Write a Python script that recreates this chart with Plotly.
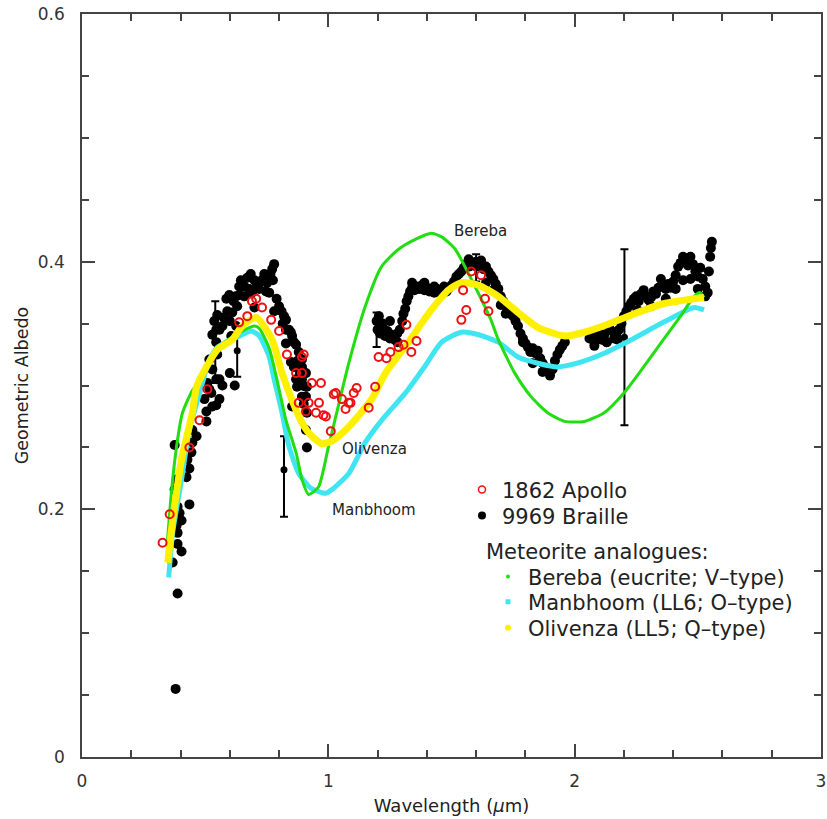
import plotly.graph_objects as go

# ---------------- data ----------------
apollo_x = [0.327, 0.356, 0.436, 0.477, 0.509, 0.638, 0.671, 0.690, 0.707, 0.731, 0.768, 0.800,
            0.832, 0.869, 0.880, 0.893, 0.893, 0.900, 0.909, 0.920, 0.933, 0.950, 0.962, 0.970,
            0.980, 0.990, 1.010, 1.022, 1.030, 1.055, 1.070, 1.083, 1.090, 1.103, 1.115, 1.164,
            1.190, 1.204, 1.236, 1.252, 1.285, 1.305, 1.317, 1.337, 1.358, 1.540, 1.547, 1.560,
            1.580, 1.620, 1.636, 1.650]
apollo_y = [0.173, 0.196, 0.250, 0.272, 0.297, 0.351, 0.356, 0.368, 0.370, 0.363, 0.353, 0.344,
            0.325, 0.310, 0.286, 0.323, 0.310, 0.325, 0.279, 0.286, 0.302, 0.278, 0.286, 0.302,
            0.276, 0.275, 0.263, 0.293, 0.294, 0.289, 0.281, 0.286, 0.286, 0.294, 0.298, 0.282,
            0.299, 0.323, 0.322, 0.327, 0.331, 0.333, 0.349, 0.327, 0.336, 0.353, 0.377, 0.361,
            0.392, 0.389, 0.370, 0.360]

braille_x = [
    # rising edge and first maximum
    0.380, 0.388, 0.368, 0.404, 0.388, 0.388, 0.384, 0.404, 0.396, 0.388, 0.436, 0.376,
    0.384, 0.424, 0.436, 0.428, 0.444, 0.376, 0.448, 0.465, 0.448, 0.505, 0.505, 0.497,
    0.545, 0.525, 0.509, 0.545, 0.529, 0.558, 0.517, 0.558, 0.529, 0.517, 0.549, 0.545,
    0.529, 0.558, 0.537, 0.549, 0.570, 0.586, 0.610, 0.630, 0.638, 0.659, 0.671, 0.650,
    0.679, 0.690, 0.719, 0.747, 0.772, 0.780, 0.752, 0.720, 0.760, 0.800, 0.780, 0.820,
    0.828, 0.853, 0.828, 0.869, 0.880, 0.848, 0.860, 0.893, 0.909, 0.869, 0.873, 0.909,
    0.909, 0.853, 0.626, 0.606, 0.700, 0.679, 0.638, 0.598, 0.545, 0.828, 0.848, 0.893,
    0.893, 0.913, 0.913, 0.909, 0.913, 0.893, 0.570, 0.600, 0.620,
    0.575, 0.590, 0.600, 0.615, 0.625, 0.645, 0.660, 0.685, 0.700, 0.710, 0.730, 0.740,
    0.765, 0.775, 0.790, 0.810, 0.815, 0.840, 0.860, 0.875, 0.885, 0.895, 0.900,
    # second band
    1.196, 1.200, 1.205, 1.210, 1.220, 1.230, 1.240, 1.250, 1.260, 1.270, 1.280, 1.290,
    1.300, 1.305, 1.312, 1.318, 1.325, 1.332, 1.340, 1.350, 1.360, 1.370, 1.380, 1.390,
    1.400, 1.410, 1.420, 1.430, 1.440, 1.450, 1.460, 1.470, 1.480, 1.490, 1.500, 1.510,
    1.520, 1.530, 1.540, 1.550, 1.560, 1.570, 1.580, 1.590, 1.600, 1.610, 1.620, 1.630,
    1.640, 1.650, 1.660, 1.670, 1.680, 1.690, 1.700, 1.710, 1.720, 1.730, 1.740, 1.750,
    1.760, 1.770, 1.780, 1.790, 1.800, 1.810, 1.820, 1.830, 1.840, 1.850, 1.860, 1.870,
    1.880, 1.890, 1.900, 1.910, 1.920, 1.930, 1.940, 1.950, 1.960,
    1.220, 1.250, 1.280, 1.340, 1.390, 1.430, 1.470, 1.570, 1.620, 1.640, 1.670, 1.700,
    1.720, 1.790, 1.830, 1.870, 1.910,
    # third band
    2.060, 2.070, 2.080, 2.090, 2.100, 2.110, 2.120, 2.130, 2.140, 2.150, 2.160, 2.170,
    2.180, 2.190, 2.200, 2.210, 2.220, 2.230, 2.240, 2.250, 2.260, 2.270, 2.280, 2.290,
    2.300, 2.310, 2.320, 2.330, 2.340, 2.350, 2.360, 2.370, 2.380, 2.390, 2.400, 2.410,
    2.420, 2.430, 2.440, 2.450, 2.460, 2.470, 2.480, 2.490, 2.500, 2.510, 2.520, 2.530,
    2.540, 2.545, 2.550, 2.553, 2.557,
    2.370, 2.410, 2.440, 2.470, 2.500, 2.530, 2.255, 2.310, 2.080, 2.130, 2.175]
braille_y = [
    0.055, 0.132, 0.157, 0.166, 0.172, 0.181, 0.187, 0.191, 0.197, 0.202, 0.204, 0.216,
    0.224, 0.226, 0.233, 0.240, 0.246, 0.252, 0.254, 0.259, 0.264, 0.271, 0.279, 0.289,
    0.284, 0.294, 0.302, 0.305, 0.283, 0.289, 0.297, 0.305, 0.313, 0.321, 0.325, 0.335,
    0.341, 0.345, 0.352, 0.357, 0.348, 0.370, 0.359, 0.364, 0.373, 0.372, 0.387, 0.380,
    0.378, 0.375, 0.378, 0.376, 0.394, 0.398, 0.383, 0.383, 0.375, 0.364, 0.360, 0.356,
    0.345, 0.340, 0.334, 0.333, 0.327, 0.319, 0.315, 0.315, 0.310, 0.305, 0.299, 0.299,
    0.291, 0.283, 0.348, 0.340, 0.363, 0.388, 0.380, 0.373, 0.345, 0.353, 0.343, 0.321,
    0.305, 0.299, 0.278, 0.264, 0.250, 0.291, 0.300, 0.310, 0.300,
    0.355, 0.360, 0.352, 0.368, 0.372, 0.385, 0.380, 0.390, 0.385, 0.380, 0.385, 0.390,
    0.390, 0.385, 0.370, 0.360, 0.350, 0.345, 0.335, 0.320, 0.310, 0.300, 0.285,
    0.352, 0.345, 0.356, 0.342, 0.347, 0.340, 0.344, 0.338, 0.341, 0.337, 0.342, 0.345,
    0.352, 0.358, 0.362, 0.368, 0.372, 0.376, 0.379, 0.377, 0.380, 0.378, 0.381, 0.377,
    0.379, 0.376, 0.378, 0.375, 0.378, 0.376, 0.374, 0.377, 0.376, 0.379, 0.381, 0.384,
    0.388, 0.390, 0.392, 0.395, 0.398, 0.396, 0.399, 0.397, 0.400, 0.396, 0.398, 0.394,
    0.396, 0.392, 0.389, 0.386, 0.382, 0.378, 0.372, 0.368, 0.364, 0.361, 0.358, 0.356,
    0.352, 0.348, 0.342, 0.338, 0.334, 0.331, 0.327, 0.330, 0.326, 0.328, 0.322, 0.318,
    0.315, 0.312, 0.308, 0.314, 0.320, 0.325, 0.329, 0.332, 0.335,
    0.350, 0.352, 0.335, 0.383, 0.383, 0.380, 0.380, 0.402, 0.401, 0.383, 0.377, 0.365,
    0.358, 0.335, 0.318, 0.311, 0.313,
    0.338, 0.342, 0.335, 0.339, 0.343, 0.337, 0.341, 0.335, 0.346, 0.344, 0.338, 0.340,
    0.345, 0.350, 0.356, 0.360, 0.364, 0.367, 0.370, 0.372, 0.368, 0.374, 0.377, 0.372,
    0.369, 0.371, 0.376, 0.374, 0.379, 0.386, 0.380, 0.378, 0.382, 0.379, 0.384, 0.389,
    0.396, 0.399, 0.404, 0.401, 0.397, 0.404, 0.398, 0.392, 0.388, 0.395, 0.386, 0.380,
    0.375, 0.392, 0.404, 0.411, 0.416,
    0.370, 0.378, 0.385, 0.386, 0.378, 0.372, 0.361, 0.364, 0.332, 0.335, 0.337]

# Braille points carrying error bars
braille_err_x = [0.541, 0.630, 0.820, 1.196, 1.600, 2.202]
braille_err_y = [0.335, 0.328, 0.232, 0.345, 0.395, 0.339]
braille_err_plus = [0.033, 0.021, 0.027, 0.014, 0.011, 0.071]
braille_err_minus = [0.033, 0.021, 0.038, 0.014, 0.011, 0.071]

bereba_x = [0.345, 0.364, 0.384, 0.408, 0.448, 0.489, 0.545, 0.600, 0.660, 0.700, 0.720, 0.760,
            0.800, 0.828, 0.870, 0.893, 0.920, 0.960, 1.000, 1.040, 1.083, 1.150, 1.216, 1.285,
            1.353, 1.418, 1.460, 1.515, 1.580, 1.660, 1.690, 1.757, 1.823, 1.890, 1.960, 2.040,
            2.120, 2.200, 2.280, 2.360, 2.430, 2.485, 2.510, 2.525]
bereba_y = [0.170, 0.216, 0.251, 0.278, 0.296, 0.307, 0.329, 0.338, 0.345, 0.348, 0.346, 0.330,
            0.297, 0.272, 0.245, 0.224, 0.212, 0.218, 0.250, 0.283, 0.318, 0.364, 0.396, 0.410,
            0.418, 0.423, 0.420, 0.410, 0.386, 0.353, 0.337, 0.310, 0.291, 0.278, 0.271, 0.271,
            0.278, 0.294, 0.315, 0.337, 0.356, 0.372, 0.375, 0.371]

manbhoom_x = [0.352, 0.368, 0.404, 0.436, 0.485, 0.517, 0.550, 0.585, 0.640, 0.687, 0.720, 0.760,
              0.780, 0.810, 0.840, 0.880, 0.930, 0.990, 1.015, 1.083, 1.150, 1.217, 1.313, 1.390,
              1.460, 1.540, 1.610, 1.690, 1.770, 1.850, 1.930, 2.010, 2.120, 2.230, 2.360, 2.485,
              2.525]
manbhoom_y = [0.145, 0.181, 0.224, 0.264, 0.299, 0.321, 0.331, 0.335, 0.340, 0.344, 0.340, 0.323,
              0.305, 0.280, 0.251, 0.229, 0.217, 0.213, 0.216, 0.229, 0.254, 0.272, 0.294, 0.315,
              0.335, 0.343, 0.341, 0.335, 0.323, 0.318, 0.315, 0.318, 0.326, 0.337, 0.351, 0.363,
              0.361]

olivenza_x = [0.348, 0.368, 0.404, 0.448, 0.465, 0.505, 0.550, 0.610, 0.650, 0.707, 0.772, 0.812,
              0.853, 0.893, 0.933, 0.974, 1.014, 1.070, 1.120, 1.176, 1.232, 1.325, 1.418, 1.487,
              1.540, 1.610, 1.690, 1.770, 1.850, 1.960, 2.040, 2.130, 2.230, 2.360, 2.525]
olivenza_y = [0.157, 0.191, 0.240, 0.278, 0.299, 0.315, 0.329, 0.337, 0.348, 0.355, 0.337, 0.310,
              0.288, 0.270, 0.259, 0.253, 0.255, 0.264, 0.275, 0.289, 0.310, 0.335, 0.361, 0.377,
              0.383, 0.381, 0.372, 0.359, 0.347, 0.340, 0.343, 0.349, 0.357, 0.366, 0.371]

x_ticks = [0, 1, 2, 3]
x_ticklabels = ["0", "1", "2", "3"]
y_ticks = [0, 0.2, 0.4, 0.6]
y_ticklabels = ["0", "0.2", "0.4", "0.6"]

curve_labels = ["Bereba", "Olivenza", "Manbhoom"]
curve_label_x = [1.616, 1.188, 1.184]
curve_label_y = [0.4245, 0.249, 0.1996]

legend_names = ["1862 Apollo", "9969 Braille", "Bereba (eucrite; V\u2013type)",
                "Manbhoom (LL6; O\u2013type)", "Olivenza (LL5; Q\u2013type)"]
legend_group_title = "Meteorite analogues:"

# ---------------- styles ----------------
RED = "#ee1111"
GREEN = "#22dd11"
CYAN = "#3fe6f2"
YELLOW = "#fff000"
AXC = "#444444"
FONT = "DejaVu Sans"
LEGFONT = dict(family=FONT, size=21, color="#222222")

fig = go.Figure()

fig.add_trace(go.Scatter(x=braille_x, y=braille_y, mode="markers",
                         marker=dict(color="black", size=10, line=dict(width=0)),
                         showlegend=False, hoverinfo="skip"))
fig.add_trace(go.Scatter(x=braille_err_x, y=braille_err_y, mode="markers",
                         marker=dict(color="black", size=7),
                         error_y=dict(type="data", symmetric=False, array=braille_err_plus,
                                      arrayminus=braille_err_minus, color="black",
                                      thickness=2, width=4),
                         showlegend=False, hoverinfo="skip"))
fig.add_trace(go.Scatter(x=manbhoom_x, y=manbhoom_y, mode="lines",
                         line=dict(color=CYAN, width=5, shape="spline", smoothing=0.6),
                         showlegend=False))
fig.add_trace(go.Scatter(x=bereba_x, y=bereba_y, mode="lines",
                         line=dict(color=GREEN, width=3, shape="spline", smoothing=0.6),
                         showlegend=False))
fig.add_trace(go.Scatter(x=olivenza_x, y=olivenza_y, mode="lines",
                         line=dict(color=YELLOW, width=7, shape="spline", smoothing=0.6),
                         showlegend=False))
fig.add_trace(go.Scatter(x=apollo_x, y=apollo_y, mode="markers",
                         marker=dict(symbol="circle-open", color=RED, size=8,
                                     line=dict(width=2, color=RED)),
                         showlegend=False))

# legend entries (one small legend per entry so each can sit where the reference has it)
legend_markers = [
    dict(symbol="circle-open", color=RED, size=7, line=dict(width=1.5, color=RED)),
    dict(color="black", size=8),
    dict(color=GREEN, size=4),
    dict(color=CYAN, size=5, symbol="square"),
    dict(color=YELLOW, size=6),
]
legend_ids = ["legend", "legend2", "legend3", "legend4", "legend5"]
for name, mk, lid in zip(legend_names, legend_markers, legend_ids):
    fig.add_trace(go.Scatter(x=[None], y=[None], mode="markers", name=name,
                             marker=mk, legend=lid))

for t, lx, ly in zip(curve_labels, curve_label_x, curve_label_y):
    fig.add_annotation(x=lx, y=ly, text=t, showarrow=False, xref="x", yref="y",
                       font=dict(family=FONT, size=15, color="#222222"))

fig.add_annotation(x=0.544, y=0.2759, xref="paper", yref="paper", xanchor="left",
                   yanchor="middle", text=legend_group_title, showarrow=False, font=LEGFONT)

axis_common = dict(showline=True, linecolor=AXC, linewidth=1.5, mirror="ticks",
                   ticks="inside", ticklen=13, tickwidth=1.5, tickcolor=AXC,
                   showgrid=False, zeroline=False, ticklabeloverflow="allow",
                   tickfont=dict(family=FONT, size=17, color="#333333"))

fig.update_xaxes(range=[0, 3], tickvals=x_ticks, ticktext=x_ticklabels,
                 minor=dict(ticks="inside", ticklen=7, dtick=0.2, tickwidth=1.5, tickcolor=AXC),
                 title=dict(text="Wavelength (<i>\u03bc</i>m)", standoff=9,
                            font=dict(family=FONT, size=18, color="#222222")),
                 ticklabelstandoff=8, **axis_common)
fig.update_yaxes(range=[0, 0.6], tickvals=y_ticks, ticktext=y_ticklabels,
                 minor=dict(ticks="inside", ticklen=7, dtick=0.05, tickwidth=1.5, tickcolor=AXC),
                 title=dict(text="Geometric Albedo", standoff=5,
                            font=dict(family=FONT, size=17.5, color="#222222")),
                 ticklabelstandoff=12, **axis_common)

leg_common = dict(xanchor="left", yanchor="top", font=LEGFONT,
                  bgcolor="rgba(0,0,0,0)", borderwidth=0)
fig.update_layout(
    width=827, height=819,
    margin=dict(l=82, r=6, t=14, b=62, autoexpand=False),
    plot_bgcolor="white", paper_bgcolor="white",
    legend=dict(x=0.5142, y=0.3870, **leg_common),
    legend2=dict(x=0.5142, y=0.3520, **leg_common),
    legend3=dict(x=0.5494, y=0.2699, **leg_common),
    legend4=dict(x=0.5494, y=0.2362, **leg_common),
    legend5=dict(x=0.5494, y=0.2012, **leg_common),
)

# remove the default 8 px body margin so the figure fills the window exactly
fig.write_html("out.html", config={"displayModeBar": False},
               post_script="document.body.style.margin='0px';")
